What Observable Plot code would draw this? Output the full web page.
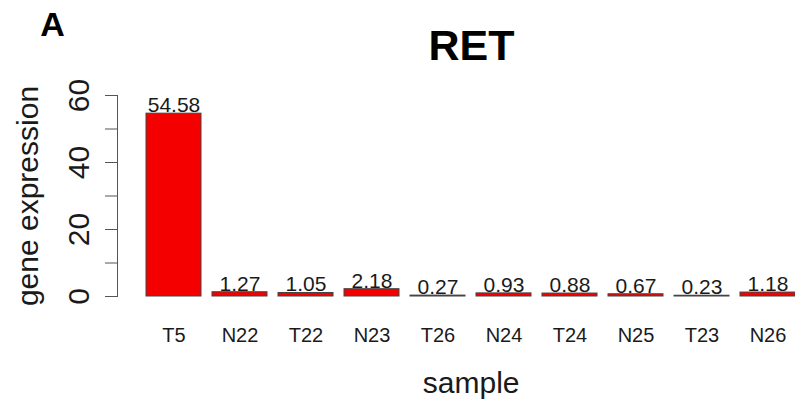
<!DOCTYPE html>
<html><head><meta charset="utf-8">
<script src="https://cdn.jsdelivr.net/npm/d3@7"></script>
<script src="https://cdn.jsdelivr.net/npm/@observablehq/plot@0.6"></script>
<style>body{margin:0;background:#fff;overflow:hidden}</style>
</head><body><div id="chart"></div>
<script>
const samples = ["T5","N22","T22","N23","T26","N24","T24","N25","T23","N26"];
const values = [54.58,1.27,1.05,2.18,0.27,0.93,0.88,0.67,0.23,1.18];
const valueLabels = ["54.58","1.27","1.05","2.18","0.27","0.93","0.88","0.67","0.23","1.18"];
const yTicks = [0,10,20,30,40,50,60];
const yTickLabels = [0,20,40,60];
const title = "RET";
const panelLabel = "A";
const xLabel = "sample";
const yLabel = "gene expression";

const data = samples.map((s,i)=>({sample:s, value:values[i], label:valueLabels[i]}));
const ink = "#1a1a1a";

const chart = Plot.plot({
  width:795, height:401,
  marginLeft:117, marginRight:0, marginTop:95, marginBottom:105,
  style:{fontFamily:"'Liberation Sans', Arial, Helvetica, sans-serif", background:"#fff", color:ink},
  x:{domain:samples, range:[143.8,797.7], paddingInner:1/6, paddingOuter:0},
  y:{domain:[0,60]},
  marks:[
    Plot.barY(data,{x:"sample", y:"value", fill:"#f40000", stroke:"#444", strokeWidth:1}),
    Plot.text(data,{x:"sample", y:"value", text:"label", lineAnchor:"bottom", dy:-1.5, fontSize:21, fill:ink}),
    Plot.axisX({tickSize:0, tickPadding:31, fontSize:20, label:null, fill:ink}),
    Plot.axisY({ticks:yTicks, tickSize:12, tickFormat:()=>"", label:null, stroke:"#555"}),
    Plot.frame({anchor:"left", stroke:"#555"}),
    Plot.text(yTickLabels,{y:d=>d, text:d=>String(d), frameAnchor:"left", dx:-29, rotate:-90, textAnchor:"middle", lineAnchor:"bottom", fontSize:30, fill:ink}),
    Plot.text([yLabel],{text:d=>d, frameAnchor:"left", dx:-80, rotate:-90, textAnchor:"middle", lineAnchor:"bottom", fontSize:30, fill:ink}),
    Plot.text([xLabel],{text:d=>d, frameAnchor:"bottom", dx:14.7, dy:96, textAnchor:"middle", lineAnchor:"bottom", fontSize:30, fill:ink}),
    Plot.text([title],{text:d=>d, frameAnchor:"top", dx:15, dy:-36, textAnchor:"middle", lineAnchor:"bottom", fontSize:43, fontWeight:"bold", fill:"#000"}),
    Plot.text([panelLabel],{text:d=>d, frameAnchor:"top-left", dx:-65, dy:-60, textAnchor:"middle", lineAnchor:"bottom", fontSize:34, fontWeight:"bold", fill:"#000"})
  ]
});
document.getElementById("chart").append(chart);
</script>
</body></html>
